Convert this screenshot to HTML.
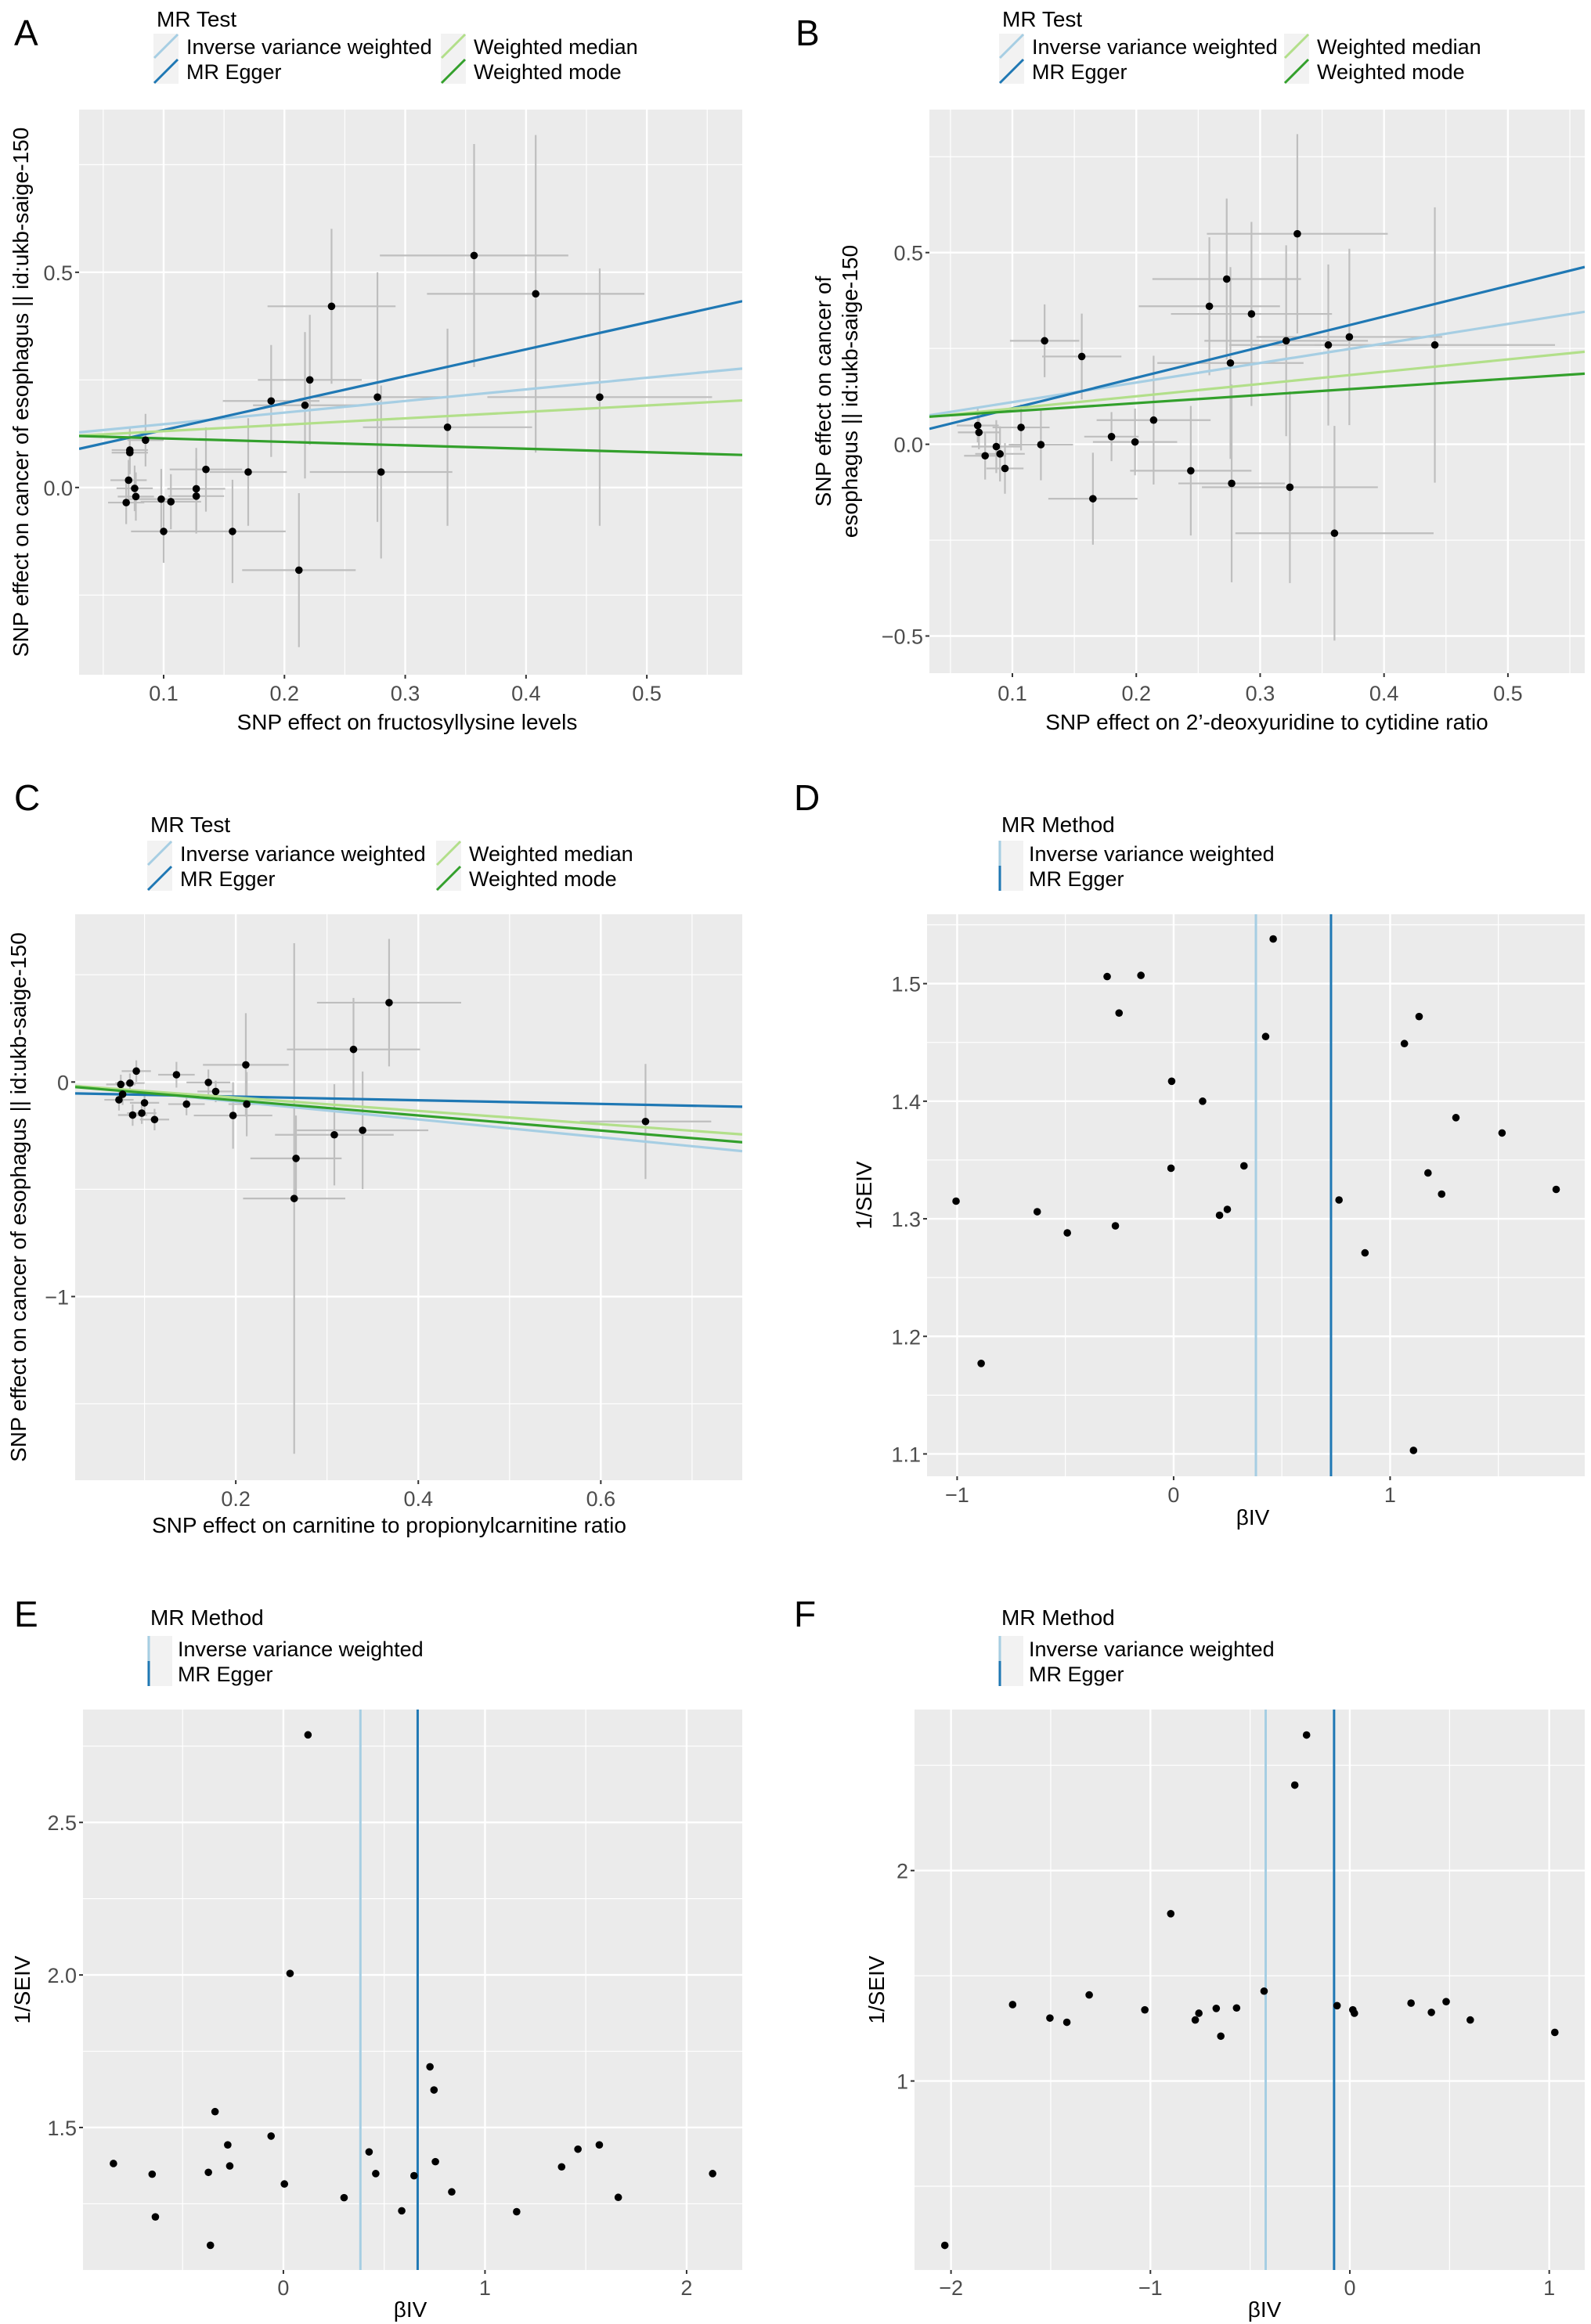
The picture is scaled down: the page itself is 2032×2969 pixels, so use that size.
<!DOCTYPE html>
<html><head><meta charset="utf-8">
<style>
html,body{margin:0;padding:0;background:#fff;}
svg{display:block;font-family:"Liberation Sans",Arial,sans-serif;}
</style></head>
<body>
<svg id="fig" width="2032" height="2969" viewBox="0 0 2032 2969" xmlns="http://www.w3.org/2000/svg"></svg>
<script>
// ---------- Panel A data ----------
const aX=[0.357,0.408,0.239,0.461,0.221,0.277,0.189,0.217,0.335,0.280,0.170,0.135,0.085,0.072,0.072,0.071,0.076,0.077,0.069,0.098,0.106,0.127,0.127,0.100,0.157,0.212];
const aY=[0.539,0.450,0.421,0.210,0.250,0.210,0.201,0.191,0.140,0.036,0.036,0.042,0.110,0.087,0.081,0.017,-0.002,-0.021,-0.035,-0.027,-0.033,-0.003,-0.020,-0.102,-0.102,-0.192];
const aXse=[0.078,0.090,0.053,0.093,0.043,0.052,0.040,0.043,0.070,0.059,0.032,0.030,0.015,0.015,0.015,0.015,0.015,0.015,0.015,0.027,0.025,0.024,0.023,0.027,0.044,0.047];
const aYse=[0.259,0.369,0.180,0.299,0.151,0.290,0.130,0.170,0.229,0.201,0.125,0.098,0.061,0.050,0.050,0.047,0.053,0.056,0.050,0.070,0.064,0.095,0.087,0.073,0.120,0.179];
const aIntercepts=[0.120,0.071,0.116,0.122];
const aSlopes=[0.270,0.625,0.149,-0.080];
// ---------- Panel B data ----------
const bX=[0.330,0.273,0.259,0.293,0.126,0.156,0.321,0.355,0.372,0.441,0.276,0.214,0.107,0.072,0.073,0.180,0.199,0.123,0.087,0.078,0.090,0.094,0.244,0.277,0.324,0.165,0.360];
const bY=[0.549,0.431,0.360,0.340,0.270,0.229,0.270,0.259,0.280,0.259,0.212,0.063,0.044,0.049,0.031,0.020,0.006,-0.001,-0.006,-0.030,-0.025,-0.063,-0.069,-0.102,-0.112,-0.142,-0.232];
const bXse=[0.073,0.060,0.057,0.065,0.028,0.032,0.066,0.080,0.075,0.097,0.059,0.046,0.023,0.017,0.017,0.022,0.034,0.026,0.020,0.017,0.020,0.015,0.049,0.043,0.071,0.036,0.080];
const bYse=[0.260,0.210,0.180,0.240,0.095,0.112,0.249,0.210,0.230,0.359,0.250,0.168,0.060,0.044,0.044,0.064,0.087,0.093,0.069,0.062,0.072,0.066,0.169,0.258,0.250,0.120,0.280];
const bIntercepts=[0.059,0.014,0.061,0.065];
const bSlopes=[0.510,0.798,0.321,0.212];
// ---------- Panel C data ----------
const cX=[0.368,0.329,0.211,0.091,0.135,0.170,0.084,0.074,0.178,0.076,0.072,0.100,0.146,0.212,0.097,0.087,0.111,0.197,0.649,0.339,0.308,0.266,0.264];
const cY=[0.370,0.152,0.080,0.051,0.034,-0.002,-0.005,-0.011,-0.044,-0.057,-0.083,-0.097,-0.103,-0.103,-0.145,-0.154,-0.175,-0.156,-0.184,-0.225,-0.246,-0.356,-0.543];
const cXse=[0.079,0.073,0.047,0.016,0.020,0.024,0.016,0.016,0.020,0.016,0.016,0.016,0.020,0.020,0.016,0.016,0.016,0.043,0.072,0.072,0.065,0.050,0.056];
const cYse=[0.297,0.240,0.241,0.050,0.060,0.060,0.045,0.045,0.050,0.050,0.050,0.050,0.052,0.150,0.050,0.050,0.050,0.155,0.268,0.274,0.236,0.200,1.190];
const cIntercepts=[-0.008,-0.051,-0.011,-0.015];
const cSlopes=[-0.416,-0.085,-0.309,-0.352];
// ---------- Panel D data ----------
const dBeta=[-1.005,-0.889,-0.630,-0.491,-0.307,-0.252,-0.269,-0.151,-0.009,-0.012,0.134,0.212,0.248,0.325,0.425,0.460,0.764,0.884,1.066,1.134,1.108,1.175,1.238,1.304,1.517,1.767];
const dInvSe=[1.315,1.177,1.306,1.288,1.506,1.475,1.294,1.507,1.417,1.343,1.400,1.303,1.308,1.345,1.455,1.538,1.316,1.271,1.449,1.472,1.103,1.339,1.321,1.386,1.373,1.325];
const dMethodBeta=[0.380,0.727];
// ---------- Panel E data ----------
const eBeta=[0.122,0.033,-0.843,-0.651,-0.635,-0.372,-0.339,-0.276,-0.266,-0.362,-0.061,0.005,0.301,0.425,0.458,0.587,0.648,0.727,0.747,0.754,0.835,1.157,1.380,1.461,1.567,1.661,2.129];
const eInvSe=[2.787,2.005,1.382,1.347,1.207,1.353,1.552,1.443,1.374,1.114,1.472,1.315,1.270,1.420,1.349,1.227,1.342,1.699,1.623,1.388,1.289,1.224,1.371,1.429,1.443,1.271,1.349];
const eMethodBeta=[0.382,0.666];
// ---------- Panel F data ----------
const fBeta=[-2.031,-1.691,-1.504,-1.419,-1.307,-1.028,-0.898,-0.775,-0.757,-0.670,-0.647,-0.568,-0.430,-0.276,-0.217,-0.064,0.015,0.023,0.307,0.409,0.483,0.604,1.028];
const fInvSe=[0.219,1.363,1.299,1.279,1.409,1.338,1.795,1.290,1.322,1.345,1.213,1.347,1.427,2.406,2.644,1.358,1.338,1.322,1.370,1.326,1.377,1.290,1.231];
const fMethodBeta=[-0.422,-0.079];
// tick labels
const aXTicks=[0.1,0.2,0.3,0.4,0.5], aYTicks=[0,0.5], aYLabels=["0.0","0.5"];
const bXTicks=[0.1,0.2,0.3,0.4,0.5], bYTicks=[-0.5,0,0.5], bYLabels=["\u22120.5","0.0","0.5"];
const cXTicks=[0.2,0.4,0.6], cYTicks=[-1,0], cYLabels=["\u22121","0"];
const dXTicks=[-1,0,1], dXLabels=["\u22121","0","1"], dYTicks=[1.1,1.2,1.3,1.4,1.5];
const eXTicks=[0,1,2], eYTicks=[1.5,2.0,2.5], eYLabels=["1.5","2.0","2.5"];
const fXTicks=[-2,-1,0,1], fXLabels=["\u22122","\u22121","0","1"], fYTicks=[1,2];
const lineMethods=["Inverse variance weighted","MR Egger","Weighted median","Weighted mode"];
const methodColors=["#a6cee3","#1f78b4","#b2df8a","#33a02c"];

const NS="http://www.w3.org/2000/svg";
const svg=document.getElementById('fig');
function mk(tag,attrs,parent,text){const e=document.createElementNS(NS,tag);for(const k in attrs)e.setAttribute(k,attrs[k]);if(text!==undefined)e.textContent=text;(parent||svg).appendChild(e);return e;}

function frame(p){
  const g=mk('g',{});
  
  
  const sx=v=>p.L+(v-p.x0)/(p.x1-p.x0)*(p.R-p.L);
  const sy=v=>p.B-(v-p.y0)/(p.y1-p.y0)*(p.B-p.T);
  const bg=mk('rect',{x:p.L,y:p.T,width:p.R-p.L,height:p.B-p.T,fill:'#EBEBEB'},g);
  
  
  p.xMinor.forEach(v=>mk('line',{x1:sx(v),x2:sx(v),y1:p.T,y2:p.B,stroke:'#fff','stroke-width':1.2},g));
  p.yMinor.forEach(v=>mk('line',{x1:p.L,x2:p.R,y1:sy(v),y2:sy(v),stroke:'#fff','stroke-width':1.2},g));
  p.xMajor.forEach((v,i)=>{
    mk('line',{x1:sx(v),x2:sx(v),y1:p.T,y2:p.B,stroke:'#fff','stroke-width':2.4},g);
    mk('line',{x1:sx(v),x2:sx(v),y1:p.B,y2:p.B+5,stroke:'#333','stroke-width':2},g);
    const t=mk('text',{x:sx(v),y:p.xLabY,'text-anchor':'middle','font-size':27,fill:'#4D4D4D'},g,p.xLab[i]);
    
    
  });
  p.yMajor.forEach((v,i)=>{
    mk('line',{x1:p.L,x2:p.R,y1:sy(v),y2:sy(v),stroke:'#fff','stroke-width':2.4},g);
    mk('line',{x1:p.L-5,x2:p.L,y1:sy(v),y2:sy(v),stroke:'#333','stroke-width':2},g);
    const t=mk('text',{x:p.L-8,y:sy(v)+10,'text-anchor':'end','font-size':27,fill:'#4D4D4D'},g,p.yLab[i]);
    
    
  });
  const xt=mk('text',{x:p.xTitleX,y:p.xTitleY,'text-anchor':'middle','font-size':28,fill:'#000'},g,p.xTitle);
  
  
  p.yTitle.forEach((s,i)=>{
    const yx=p.yTitleX[i], yc=(p.T+p.B)/2;
    const yt=mk('text',{x:yx,y:yc,'text-anchor':'middle','font-size':28,fill:'#000',transform:'rotate(-90 '+yx+' '+yc+')'},g,s);
    
    
  });
  const lt=mk('text',{x:p.letX,y:p.letY,'font-size':46,fill:'#000'},g,p.id.toUpperCase());
  
  
  return {g,sx,sy};
}

function legend(g,p,n,vertical){
  const tt=mk('text',{x:p.legX,y:p.legTitleY,'font-size':28,fill:'#000'},g,vertical?'MR Method':'MR Test');
  
  
  for(let i=0;i<n;i++){
    const col=vertical?0:Math.floor(i/2), row=vertical?i:i%2;
    const kx=p.legX-4+col*p.legCol, ky=p.legRowY+row*32;
    const e=mk('g',{},g);
    
    
    mk('rect',{x:kx,y:ky,width:32,height:32,fill:'#F2F2F2'},e);
    if(vertical) mk('line',{x1:kx+2,x2:kx+2,y1:ky,y2:ky+32,stroke:methodColors[i],'stroke-width':3},e);
    else mk('line',{x1:kx+1,y1:ky+31,x2:kx+31,y2:ky+1,stroke:methodColors[i],'stroke-width':3},e);
    mk('text',{x:kx+(vertical?39:42),y:ky+26,'font-size':27,fill:'#000'},e,lineMethods[i]);
  }
}

function scatterPanel(p,X,Y,XS,YS,A,Bs){
  const {g,sx,sy}=frame(p);
  const clip='clip'+p.id;
  const cp=mk('clipPath',{id:clip},g);mk('rect',{x:p.L,y:p.T,width:p.R-p.L,height:p.B-p.T},cp);
  const data=mk('g',{'clip-path':'url(#'+clip+')'},g);
  for(let i=0;i<X.length;i++){
    const eh=mk('line',{x1:sx(X[i]-XS[i]),x2:sx(X[i]+XS[i]),y1:sy(Y[i]),y2:sy(Y[i]),stroke:'#BEBEBE','stroke-width':2.2},data);
    
    
    const ev=mk('line',{x1:sx(X[i]),x2:sx(X[i]),y1:sy(Y[i]-YS[i]),y2:sy(Y[i]+YS[i]),stroke:'#BEBEBE','stroke-width':2.2},data);
    
    
  }
  for(let k=0;k<4;k++){
    const ln=mk('line',{x1:sx(p.x0),y1:sy(A[k]+Bs[k]*p.x0),x2:sx(p.x1),y2:sy(A[k]+Bs[k]*p.x1),stroke:methodColors[k],'stroke-width':3.2},data);
    
    
  }
  for(let i=0;i<X.length;i++){
    const c=mk('circle',{cx:sx(X[i]),cy:sy(Y[i]),r:4.8,fill:'#000'},data);
    
    
  }
  legend(g,p,4,false);
}

function funnelPanel(p,X,Y,M){
  const {g,sx,sy}=frame(p);
  for(let k=0;k<2;k++){
    const ln=mk('line',{x1:sx(M[k]),x2:sx(M[k]),y1:p.T,y2:p.B,stroke:methodColors[k],'stroke-width':3},g);
    
    
  }
  for(let i=0;i<X.length;i++){
    const c=mk('circle',{cx:sx(X[i]),cy:sy(Y[i]),r:4.8,fill:'#000'},g);
    
    
  }
  legend(g,p,2,true);
}

const fmt=v=>v.toFixed(1);
scatterPanel({id:'a',L:101,R:948,T:140,B:862,x0:0.030,x1:0.579,y0:-0.435,y1:0.878,
  xMajor:aXTicks,xLab:aXTicks.map(fmt),xMinor:[0.05,0.15,0.25,0.35,0.45,0.55],
  yMajor:aYTicks,yLab:aYLabels,yMinor:[-0.25,0.25,0.75],
  xLabY:895,xTitle:'SNP effect on fructosyllysine levels',xTitleX:520,xTitleY:932,
  yTitle:['SNP effect on cancer of esophagus || id:ukb-saige-150'],yTitleX:[36],
  letX:18,letY:58,legX:200,legTitleY:34,legRowY:43,legCol:367},aX,aY,aXse,aYse,aIntercepts,aSlopes);
scatterPanel({id:'b',L:1187,R:2024,T:140,B:860,x0:0.033,x1:0.562,y0:-0.597,y1:0.873,
  xMajor:bXTicks,xLab:bXTicks.map(fmt),xMinor:[0.05,0.15,0.25,0.35,0.45,0.55],
  yMajor:bYTicks,yLab:bYLabels,yMinor:[-0.25,0.25,0.75],
  xLabY:895,xTitle:'SNP effect on 2\u2019-deoxyuridine to cytidine ratio',xTitleX:1618,xTitleY:932,
  yTitle:['SNP effect on cancer of','esophagus || id:ukb-saige-150'],yTitleX:[1061,1095],
  letX:1016,letY:58,legX:1280,legTitleY:34,legRowY:43,legCol:364},bX,bY,bXse,bYse,bIntercepts,bSlopes);
scatterPanel({id:'c',L:96,R:948,T:1168,B:1891,x0:0.024,x1:0.755,y0:-1.856,y1:0.782,
  xMajor:cXTicks,xLab:cXTicks.map(fmt),xMinor:[0.1,0.3,0.5,0.7],
  yMajor:cYTicks,yLab:cYLabels,yMinor:[-1.5,-0.5,0.5],
  xLabY:1924,xTitle:'SNP effect on carnitine to propionylcarnitine ratio',xTitleX:497,xTitleY:1958,
  yTitle:['SNP effect on cancer of esophagus || id:ukb-saige-150'],yTitleX:[33],
  letX:18,letY:1035,legX:192,legTitleY:1063,legRowY:1074,legCol:369},cX,cY,cXse,cYse,cIntercepts,cSlopes);
funnelPanel({id:'d',L:1184,R:2024,T:1168,B:1886,x0:-1.139,x1:1.899,y0:1.081,y1:1.559,
  xMajor:dXTicks,xLab:dXLabels,xMinor:[-0.5,0.5,1.5],
  yMajor:dYTicks,yLab:dYTicks.map(fmt),yMinor:[1.15,1.25,1.35,1.45,1.55],
  xLabY:1919,xTitle:'\u03b2IV',xTitleX:1600,xTitleY:1948,
  yTitle:['1/SEIV'],yTitleX:[1113],
  letX:1014,letY:1035,legX:1279,legTitleY:1063,legRowY:1074,legCol:0},dBeta,dInvSe,dMethodBeta);
funnelPanel({id:'e',L:106,R:948,T:2184,B:2900,x0:-0.994,x1:2.276,y0:1.033,y1:2.870,
  xMajor:eXTicks,xLab:eXTicks.map(String),xMinor:[-0.5,0.5,1.5],
  yMajor:eYTicks,yLab:eYLabels,yMinor:[1.25,1.75,2.25,2.75],
  xLabY:2932,xTitle:'\u03b2IV',xTitleX:524,xTitleY:2960,
  yTitle:['1/SEIV'],yTitleX:[38],
  letX:18,letY:2078,legX:192,legTitleY:2076,legRowY:2090,legCol:0},eBeta,eInvSe,eMethodBeta);
funnelPanel({id:'f',L:1168,R:2024,T:2184,B:2900,x0:-2.183,x1:1.178,y0:0.102,y1:2.765,
  xMajor:fXTicks,xLab:fXLabels,xMinor:[-1.5,-0.5,0.5],
  yMajor:fYTicks,yLab:fYTicks.map(String),yMinor:[0.5,1.5,2.5],
  xLabY:2932,xTitle:'\u03b2IV',xTitleX:1615,xTitleY:2960,
  yTitle:['1/SEIV'],yTitleX:[1129],
  letX:1014,letY:2078,legX:1279,legTitleY:2076,legRowY:2090,legCol:0},fBeta,fInvSe,fMethodBeta);
</script>
</body></html>
